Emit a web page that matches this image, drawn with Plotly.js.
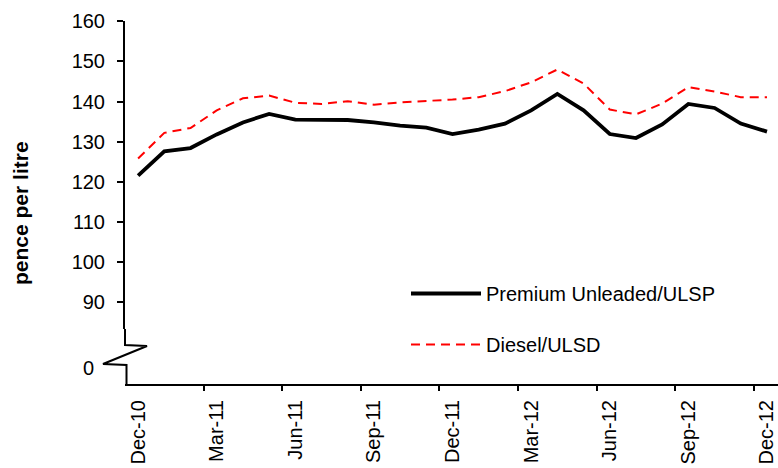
<!DOCTYPE html>
<html>
<head>
<meta charset="utf-8">
<script src="https://cdn.plot.ly/plotly-3.0.1.min.js"></script>
<style>html,body{margin:0;padding:0;background:#fff;overflow:hidden}#chart{width:778px;height:468px}</style>
</head>
<body>
<div id="chart"></div>
<script>
// ---- data ----
var months = ["Dec-10","Jan-11","Feb-11","Mar-11","Apr-11","May-11","Jun-11","Jul-11","Aug-11",
  "Sep-11","Oct-11","Nov-11","Dec-11","Jan-12","Feb-12","Mar-12","Apr-12","May-12","Jun-12",
  "Jul-12","Aug-12","Sep-12","Oct-12","Nov-12","Dec-12"];
var premiumULSP = [121.5,127.6,128.4,131.8,134.8,136.9,135.5,135.4,135.4,134.8,134.0,133.5,
  131.9,133.0,134.5,137.8,141.9,137.8,131.9,130.9,134.3,139.4,138.4,134.5,132.5];
var dieselULSD = [125.8,132.2,133.4,137.8,140.8,141.5,139.7,139.4,140.1,139.2,139.8,140.1,
  140.5,141.1,142.6,144.8,148.0,144.5,138.0,136.8,139.5,143.6,142.5,141.1,141.1];
var seriesNames = ["Premium Unleaded/ULSP", "Diesel/ULSD"];
var yTicksUpper = [90,100,110,120,130,140,150,160];
var yTicksLower = [0];

// ---- derived ----
var idx = months.map(function(m,i){return i;});
var labelIdx = idx.filter(function(i){return i % 3 === 0;});
var labelText = labelIdx.map(function(i){return months[i];});
var boundaryVals = labelIdx.filter(function(i){return i > 0;}).map(function(i){return i - 0.5;});

var FONT = "Liberation Sans, Arial, sans-serif";

var traces = [
  {x: idx, y: premiumULSP, name: seriesNames[0], type: "scatter", mode: "lines",
   line: {color: "#000000", width: 3.8}, xaxis: "x", yaxis: "y", legendgroup: "a", hoverinfo: "skip"},
  {x: idx, y: dieselULSD, name: seriesNames[1], type: "scatter", mode: "lines",
   line: {color: "#ff0000", width: 2, dash: "9px,6px"}, xaxis: "x", yaxis: "y", legendgroup: "b", hoverinfo: "skip"},
  // invisible helper so the lower (broken) axis segment exists
  {x: [idx[0]], y: yTicksLower, type: "scatter", mode: "markers", marker: {opacity: 0},
   xaxis: "x", yaxis: "y2", showlegend: false, hoverinfo: "skip"}
];

// plot area geometry: left 125px, top 21px, bottom 384px
var W = 778, H = 468, L = 125, T = 21, B = 384;
var ph = B - T, pw = W - L;
function py(p){return (B - p)/ph;}
function px(p){return (p - L)/pw;}
var splitY = py(329);

var layout = {
  width: W, height: H,
  margin: {l: L, r: 0, t: T, b: H - B, pad: 0},
  paper_bgcolor: "#ffffff", plot_bgcolor: "rgba(0,0,0,0)",
  font: {family: FONT, size: 20, color: "#000000"},
  showlegend: true,
  legend: {x: px(406), y: py(274), xanchor: "left", yanchor: "top", xref: "paper", yref: "paper",
    bgcolor: "rgba(0,0,0,0)", font: {family: FONT, size: 20, color: "#000"},
    itemwidth: 70, tracegroupgap: 22, traceorder: "grouped"},
  xaxis: {
    range: [-0.5, 24.42], anchor: "y2", showgrid: false, zeroline: false,
    showline: true, linecolor: "#000", linewidth: 2,
    tickmode: "array", tickvals: labelIdx, ticktext: labelText,
    tickangle: -90, ticks: "", ticklabelstandoff: 6,
    tickfont: {family: FONT, size: 20, color: "#000"},
    minor: {tickmode: "array", tickvals: boundaryVals, ticks: "outside", ticklen: 5,
      tickwidth: 2, tickcolor: "#000", showgrid: false}
  },
  yaxis: {
    domain: [splitY, 1], range: [90 - (329 - 302)/4, 160.1], anchor: "x",
    showgrid: false, zeroline: false, showline: true, linecolor: "#000", linewidth: 2,
    tickmode: "array", tickvals: yTicksUpper, ticks: "outside", ticklen: 6, tickwidth: 2,
    tickcolor: "#000", ticklabelstandoff: 8,
    tickfont: {family: FONT, size: 20, color: "#000"}
  },
  yaxis2: {
    domain: [0, splitY], range: [-0.29, 0.71], anchor: "x",
    showgrid: false, zeroline: false, showline: false,
    tickmode: "array", tickvals: yTicksLower, ticks: "", ticklabelstandoff: 30,
    tickfont: {family: FONT, size: 20, color: "#000"}
  },
  annotations: [
    {text: "<b>pence per litre</b>", xref: "paper", yref: "paper", x: px(20), y: py(213),
     xanchor: "center", yanchor: "middle", textangle: -90, showarrow: false,
     font: {family: FONT, size: 21, color: "#000"}}
  ],
  shapes: [
    {type: "path", xref: "paper", yref: "paper",
     path: "M" + px(125) + "," + py(329) + " L" + px(125) + "," + py(345) +
           " L" + px(147) + "," + py(346) + " L" + px(103) + "," + py(364) +
           " L" + px(126.5) + "," + py(365) + " L" + px(126.5) + "," + py(384),
     line: {color: "#000", width: 2}}
  ]
};

Plotly.newPlot("chart", traces, layout, {displayModeBar: false, staticPlot: true});
</script>
</body>
</html>
